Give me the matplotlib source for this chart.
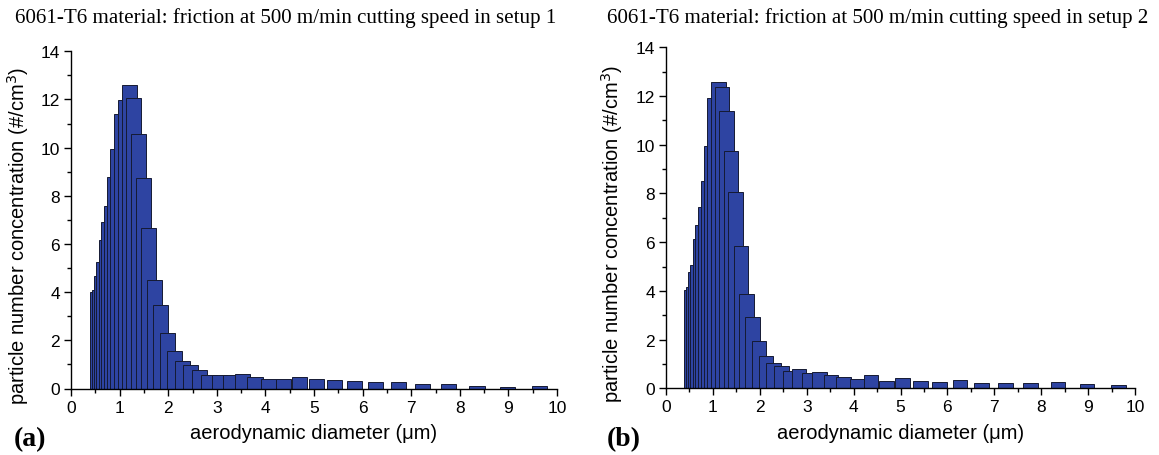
import numpy as np
import matplotlib.pyplot as plt
from matplotlib.ticker import MultipleLocator

# APS channel midpoints (um)
diam = [0.542, 0.583, 0.626, 0.673, 0.723, 0.777, 0.835, 0.898, 0.965, 1.037,
        1.114, 1.197, 1.286, 1.382, 1.486, 1.596, 1.715, 1.843, 1.981, 2.129,
        2.288, 2.458, 2.642, 2.839, 3.051, 3.278, 3.523, 3.786, 4.068, 4.371,
        4.698, 5.048, 5.425, 5.829, 6.264, 6.732, 7.234, 7.774, 8.354, 8.977,
        9.647]

conc_setup1 = [4.0, 4.1, 4.67, 5.27, 6.18, 6.93, 7.59, 8.8, 9.94, 11.38,
               11.99, 12.59, 12.07, 10.58, 8.76, 6.68, 4.52, 3.46, 2.30, 1.54,
               1.16, 0.97, 0.77, 0.58, 0.55, 0.54, 0.61, 0.48, 0.39, 0.41,
               0.48, 0.39, 0.35, 0.33, 0.29, 0.26, 0.18, 0.17, 0.10, 0.08,
               0.12]

conc_setup2 = [4.05, 4.14, 4.76, 5.07, 6.13, 6.70, 7.46, 8.50, 9.93, 11.90,
               12.59, 12.39, 11.38, 9.75, 8.04, 5.83, 3.86, 2.91, 1.93, 1.34,
               1.03, 0.93, 0.70, 0.78, 0.63, 0.66, 0.55, 0.45, 0.38, 0.53,
               0.31, 0.41, 0.30, 0.25, 0.34, 0.23, 0.23, 0.21, 0.26, 0.19,
               0.12]

titles = ["6061-T6 material: friction at 500 m/min cutting speed in setup 1",
          "6061-T6 material: friction at 500 m/min cutting speed in setup 2"]
panel_tags = ["(a)", "(b)"]

bar_color = "#2e44a2"
sans = ["Liberation Sans", "DejaVu Sans"]
serif = ["Liberation Serif", "DejaVu Serif"]

W, H = 1159, 456
fig = plt.figure(figsize=(W / 100, H / 100), dpi=100)

# axes boxes in pixels: left, right, bottom(y0 px), top(y14 px)
boxes = [(71, 557, 389.5, 52.3), (666, 1135, 389.3, 48.3)]
data = [conc_setup1, conc_setup2]
ylab_x = [-0.082, -0.087]

for i in range(2):
    l, r, b, t = boxes[i]
    ax = fig.add_axes([l / W, 1 - b / H, (r - l) / W, (b - t) / H])
    ax.bar(diam, data[i], width=0.31, color=bar_color, edgecolor="#151a33",
           linewidth=0.7, align="center")
    ax.set_xlim(0, 10)
    ax.set_ylim(0, 14)
    ax.spines["top"].set_visible(False)
    ax.spines["right"].set_visible(False)
    ax.spines["left"].set_linewidth(1.0)
    ax.spines["bottom"].set_linewidth(1.0)
    ax.xaxis.set_major_locator(MultipleLocator(1))
    ax.xaxis.set_minor_locator(MultipleLocator(0.5))
    ax.yaxis.set_major_locator(MultipleLocator(2))
    ax.yaxis.set_minor_locator(MultipleLocator(1))
    ax.tick_params(which="major", direction="out", length=5, width=1,
                   labelsize=12.5, pad=3)
    ax.tick_params(which="minor", direction="out", length=3, width=1)
    for lab in ax.get_xticklabels() + ax.get_yticklabels():
        lab.set_family(sans)
    ax.set_xlabel("aerodynamic diameter (\u03bcm)", family=sans, fontsize=14.5,
                  labelpad=6)
    ax.set_ylabel("particle number concentration (#/cm$^3$)", family=sans,
                  fontsize=14.5)
    ax.yaxis.set_label_coords(ylab_x[i], 0.455)

    fig.text((15 if i == 0 else 607) / W, 1 - 8 / H, titles[i],
             family=serif, fontsize=15.1, ha="left", va="top")
    fig.text((14 if i == 0 else 607) / W, 1 - 440 / H, panel_tags[i],
             family=serif, fontsize=20, fontweight="bold", ha="left",
             va="center")

fig.savefig("out.png", dpi=100)
